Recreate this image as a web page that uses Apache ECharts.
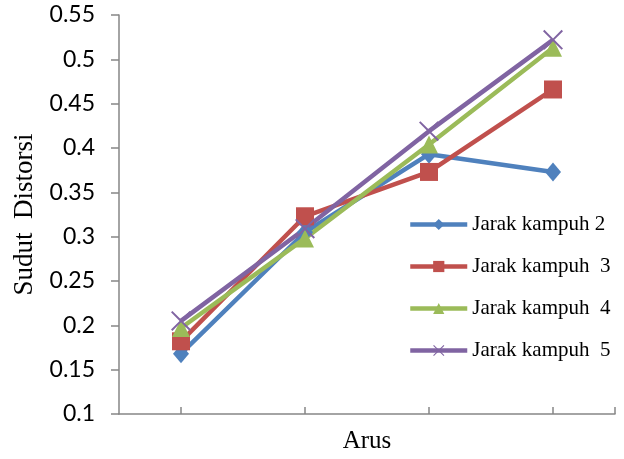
<!DOCTYPE html>
<html>
<head>
<meta charset="utf-8">
<script src="https://cdn.jsdelivr.net/npm/echarts@6/dist/echarts.min.js"></script>
<style>
html,body{margin:0;padding:0;background:#fff;}
#chart{width:624px;height:459px;}
</style>
</head>
<body>
<div id="chart"></div>
<script>
var xValues = [1, 2, 3, 4];
var seriesNames = ['Jarak kampuh 2', 'Jarak kampuh  3', 'Jarak kampuh  4', 'Jarak kampuh  5'];
var jarak2 = [0.168, 0.305, 0.393, 0.373];
var jarak3 = [0.182, 0.323, 0.373, 0.466];
var jarak4 = [0.197, 0.298, 0.404, 0.513];
var jarak5 = [0.205, 0.309, 0.419, 0.522];
var yMin = 0.1, yMax = 0.55, yStep = 0.05;

var colors = ['#4F81BD', '#C0504D', '#9BBB59', '#8064A2'];
var crossPath = 'path://M0,0.7L0.7,0L5,4.3L9.3,0L10,0.7L5.7,5L10,9.3L9.3,10L5,5.7L0.7,10L0,9.3L4.3,5Z';
var symbols = ['diamond', 'rect', 'triangle', crossPath];
var sizes = [[16, 19], 18, 18, 20];
var allData = [jarak2, jarak3, jarak4, jarak5];

function pairs(arr) { return xValues.map(function (x, i) { return [x, arr[i]]; }); }

var chart = echarts.init(document.getElementById('chart'), null, {renderer: 'canvas'});
chart.setOption({
  animation: false,
  color: colors,
  grid: {left: 119, right: 9, top: 15, bottom: 43, containLabel: false},
  xAxis: {
    type: 'value', min: 0.5, max: 4.5,
    name: 'Arus', nameLocation: 'middle', nameGap: 15,
    nameTextStyle: {fontFamily: 'Liberation Serif', fontSize: 25, color: '#000'},
    axisLine: {lineStyle: {color: '#868686', width: 1.5}},
    axisTick: {show: true, inside: true, length: 7, customValues: [1, 2, 3, 4, 4.5], lineStyle: {color: '#868686', width: 1.5}},
    axisLabel: {show: false},
    splitLine: {show: false}
  },
  yAxis: {
    type: 'value', min: yMin, max: yMax, interval: yStep,
    name: 'Sudut  Distorsi', nameLocation: 'middle', nameGap: 76,
    nameTextStyle: {fontFamily: 'Liberation Serif', fontSize: 27, color: '#000'},
    axisLine: {show: true, lineStyle: {color: '#868686', width: 1.5}},
    axisTick: {show: true, length: 8, lineStyle: {color: '#868686', width: 1.5}},
    axisLabel: {margin: 24, fontFamily: 'Lato', fontSize: 23, color: '#000',
      formatter: function (v) { return String(+v.toFixed(2)); }},
    splitLine: {show: false}
  },
  legend: {
    orient: 'vertical', left: 408, top: 214, padding: 0,
    itemWidth: 57, itemHeight: 14, itemGap: 21,
    textStyle: {fontFamily: 'Liberation Serif', fontSize: 21, color: '#000', lineHeight: 21},
    lineStyle: {width: 4.5},
    data: seriesNames
  },
  series: allData.map(function (arr, i) {
    return {
      name: seriesNames[i], type: 'line', data: pairs(arr),
      symbol: symbols[i], symbolSize: sizes[i], showSymbol: true,
      lineStyle: {width: 4.5, color: colors[i]},
      itemStyle: {color: colors[i]}
    };
  })
});
</script>
</body>
</html>
